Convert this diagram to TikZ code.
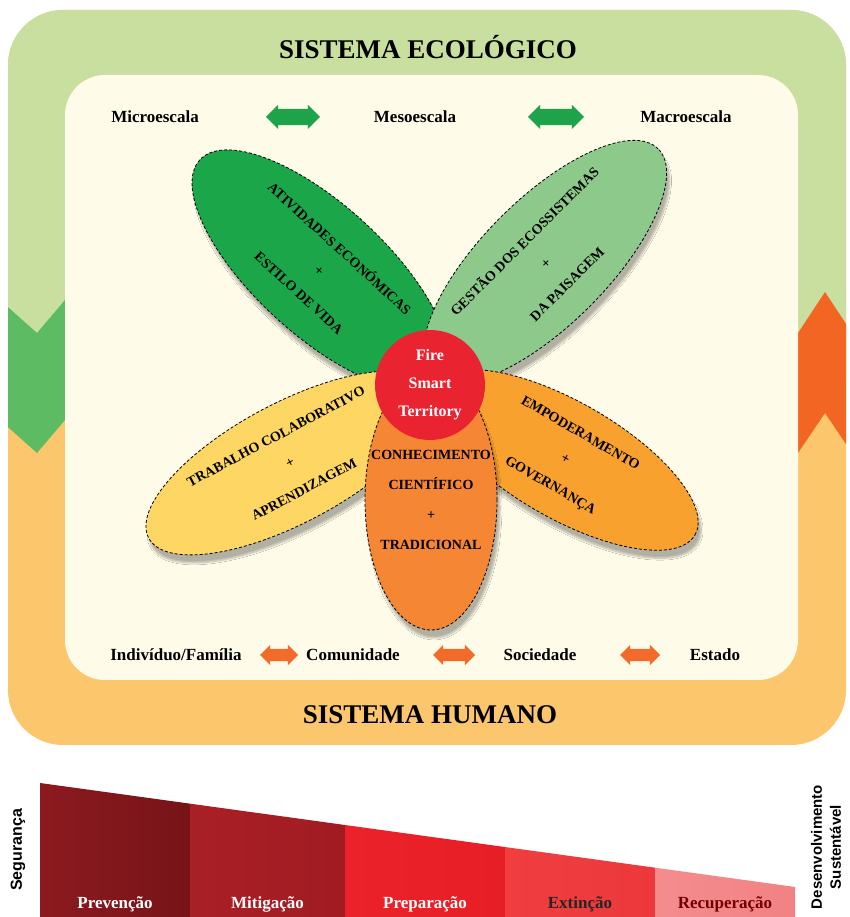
\documentclass[tikz,border=0pt]{standalone}
\usepackage{fontspec}
\setmainfont{Liberation Serif}
\setsansfont{Liberation Sans}
\usetikzlibrary{shapes.geometric,shapes.arrows,shadows.blur}
\definecolor{ecogreen}{RGB}{200,223,160}
\definecolor{humorange}{RGB}{252,198,109}
\definecolor{cream}{RGB}{254,251,232}
\definecolor{chevgreen}{RGB}{93,187,99}
\definecolor{chevorange}{RGB}{242,101,34}
\definecolor{petdkgreen}{RGB}{27,166,74}
\definecolor{petltgreen}{RGB}{140,201,138}
\definecolor{petyellow}{RGB}{253,214,100}
\definecolor{petorange}{RGB}{249,161,46}
\definecolor{petcarrot}{RGB}{245,134,52}
\definecolor{firered}{RGB}{233,35,48}
\definecolor{arrgreen}{RGB}{31,163,74}
\definecolor{arrorange}{RGB}{242,107,42}
\definecolor{barA}{RGB}{140,26,31}
\definecolor{barAr}{RGB}{118,20,24}
\definecolor{barB}{RGB}{170,31,38}
\definecolor{barBr}{RGB}{160,28,34}
\definecolor{barC}{RGB}{236,34,42}
\definecolor{barCr}{RGB}{232,30,38}
\definecolor{barD}{RGB}{240,62,64}
\definecolor{barDr}{RGB}{236,56,58}
\definecolor{barE}{RGB}{244,140,142}
\definecolor{barEr}{RGB}{242,130,132}
\tikzset{
  petal/.style={ellipse, draw=black, densely dashed, thick, inner xsep=-16pt, inner ysep=0pt, align=center,
    font=\fontsize{14}{30}\selectfont\bfseries,
    blur shadow={shadow xshift=3pt, shadow yshift=-8pt, shadow blur steps=10, shadow opacity=30}},
  scalelabel/.style={font=\fontsize{17}{19}\selectfont\bfseries},
  scalearrow/.style={double arrow, double arrow head extend=4pt, inner xsep=0pt},
  systitle/.style={font=\fontsize{27}{30}\selectfont\bfseries},
  phase/.style={font=\fontsize{17}{19}\selectfont\bfseries}
}

\begin{document}
\begin{tikzpicture}[x=1pt,y=1pt]
\useasboundingbox (0,0) rectangle (849,917);
% outer frame: ecological above, human below
\begin{scope}
\clip[rounded corners=55pt] (8,172) rectangle (846,907);
\fill[humorange] (0,0) rectangle (849,917);
\fill[ecogreen] (0,537) rectangle (849,917);
\fill[chevgreen] (0,617) -- (37,584) -- (65,617) -- (65,497) -- (37,464) -- (0,497) -- cycle;
\fill[chevorange] (798,584) -- (825,625) -- (852,584) -- (852,464) -- (825,504) -- (798,464) -- cycle;
\end{scope}
\fill[cream, rounded corners=40pt] (65,237) rectangle (798,842);

\node[systitle] (eco) at (428,870) {SISTEMA ECOLÓGICO};
\node[systitle] (hum) at (430,202) {SISTEMA HUMANO};

% scales
\node[scalelabel] (micro) at (155,800) {Microescala};
\node[scalearrow, fill=arrgreen, minimum height=54pt, inner ysep=8pt] (ar1) at (293,800) {};
\node[scalelabel] (meso) at (415,800) {Mesoescala};
\node[scalearrow, fill=arrgreen, minimum height=56pt, inner ysep=8pt] (ar2) at (556,800) {};
\node[scalelabel] (macro) at (686,800) {Macroescala};

\node[scalelabel] (indiv) at (176,262) {Indivíduo/Família};
\node[scalearrow, fill=arrorange, minimum height=38pt, inner ysep=6pt] (ar3) at (279,262) {};
\node[scalelabel] (comun) at (353,262) {Comunidade};
\node[scalearrow, fill=arrorange, minimum height=42pt, inner ysep=6pt] (ar4) at (454,262) {};
\node[scalelabel] (socie) at (540,262) {Sociedade};
\node[scalearrow, fill=arrorange, minimum height=40pt, inner ysep=6pt] (ar5) at (640,262) {};
\node[scalelabel] (estado) at (715,262) {Estado};

% petals
\node[petal, fill=petdkgreen, minimum width=326pt, minimum height=130pt, rotate=-42.5] (econ) at (320,647)
  {ATIVIDADES ECONÓMICAS\\+\\ESTILO DE VIDA};
\node[petal, fill=petltgreen, minimum width=320pt, minimum height=126pt, rotate=45] (gest) at (545,655)
  {GESTÃO DOS ECOSSISTEMAS\\+\\DA PAISAGEM};
\node[petal, fill=petyellow, minimum width=320pt, minimum height=120pt, rotate=28] (trab) at (290,454)
  {TRABALHO COLABORATIVO\\+\\APRENDIZAGEM};
\node[petal, fill=petorange, minimum width=300pt, minimum height=116pt, rotate=-30] (empod) at (565,457)
  {EMPODERAMENTO\\+\\GOVERNANÇA};
\node[petal, fill=petcarrot, minimum width=132pt, minimum height=260pt] (conh) at (431,417)
  {CONHECIMENTO\\CIENTÍFICO\\+\\TRADICIONAL};
\node[circle, fill=firered, minimum size=110pt, inner sep=0pt, text=white, align=center,
  font=\fontsize{16}{28}\selectfont\bfseries] (fire) at (430,532) {Fire\\Smart\\Territory};

% phases bar
\foreach \xa/\xb/\cl/\cr/\lab/\tc [count=\i] in
  {40/190/barA/barAr/Prevenção/white, 190/345/barB/barBr/Mitigação/white,
   345/505/barC/barCr/Preparação/white, 505/655/barD/barDr/Extinção/black!85,
   655/795/barE/barEr/Recuperação/red!45!black}
{
  \shade[left color=\cl, right color=\cr] (\xa,-1) -- (\xa,{134-0.1377*(\xa-40)})
    -- (\xb,{134-0.1377*(\xb-40)}) -- (\xb,-1) -- cycle;
  \node[phase, text=\tc] (phase\i) at ({(\xa+\xb)/2},13) {\lab};
}
\node[rotate=90, font=\sffamily\bfseries\fontsize{16}{18}\selectfont] (segur) at (18,67) {Segurança};
\node[rotate=90, align=center, font=\sffamily\bfseries\fontsize{15}{19}\selectfont] (desenv) at (826,70)
  {Desenvolvimento\\Sustentável};
\end{tikzpicture}
\end{document}
